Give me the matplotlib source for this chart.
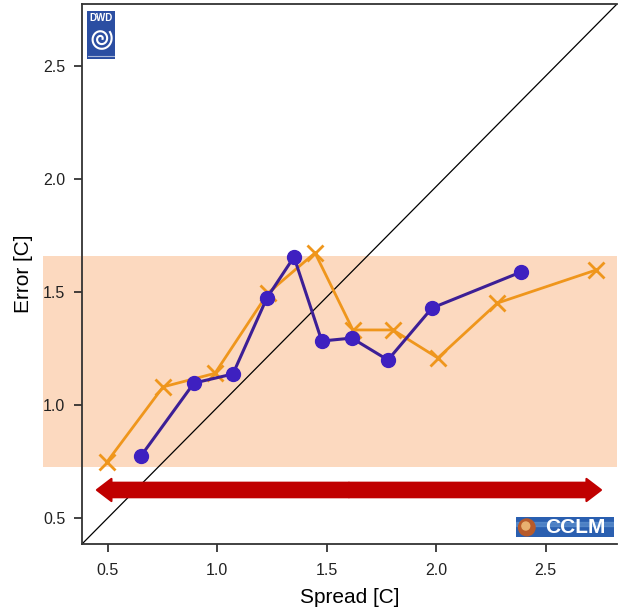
import numpy as np
import matplotlib
matplotlib.use("Agg")
import matplotlib.pyplot as plt
from matplotlib.patches import FancyArrowPatch, Rectangle, Circle

plt.rcParams['font.family'] = ['Liberation Sans', 'DejaVu Sans']

# spread / error pairs
spread_a = [0.652, 0.894, 1.072, 1.227, 1.351, 1.478, 1.615, 1.780, 1.981, 2.387]
error_a = [0.774, 1.097, 1.137, 1.473, 1.655, 1.283, 1.296, 1.199, 1.429, 1.588]

spread_b = [0.497, 0.753, 0.99, 1.233, 1.447, 1.620, 1.803, 2.008, 2.280, 2.730]
error_b = [0.748, 1.080, 1.140, 1.496, 1.673, 1.332, 1.332, 1.208, 1.451, 1.597]

band = (0.726, 1.659)
arrow_y = 0.624
arrow_x = (0.451, 2.753)
xticks = [0.5, 1.0, 1.5, 2.0, 2.5]
yticks = [0.5, 1.0, 1.5, 2.0, 2.5]

fig = plt.figure(figsize=(6.18, 6.08), dpi=100)
ax = fig.add_axes([82/618, (608-544)/608, 535/618, 540/608])

ax.set_xlim(0.383, 2.826)
ax.set_ylim(0.385, 2.774)

# shaded band, sticking out to the left of the axes
ax.axhspan(band[0], band[1], xmin=-0.073, xmax=1.0, color='#fcd9bf', lw=0, clip_on=False, zorder=0)

# diagonal reference line, corner to corner
ax.plot([0, 1], [0, 1], transform=ax.transAxes, color='black', lw=0.9, zorder=1)

ax.plot(spread_b, error_b, color='#ef961c', lw=2, marker='x', ms=11, mew=2, zorder=2)
ax.plot(spread_a, error_a, color='#3c1f96', lw=2.2, marker='o', ms=10,
        mfc='#3e20c0', mec='#3e20c0', zorder=3)

# double red arrow built from two one-sided arrows
mid = (arrow_x[0] + arrow_x[1]) / 2
for end in arrow_x:
    ar = FancyArrowPatch((mid, arrow_y), (end, arrow_y),
                         arrowstyle='simple,head_length=10.5,head_width=16,tail_width=10.5',
                         mutation_scale=1, color='#c00000', lw=1.5, joinstyle='round',
                         shrinkA=0, shrinkB=0, zorder=4)
    ax.add_patch(ar)

ax.set_xticks(xticks)
ax.set_yticks(yticks)
ax.set_xticklabels([f'{v:.1f}' for v in xticks])
ax.set_yticklabels([f'{v:.1f}' for v in yticks])
ax.tick_params(direction='out', length=6, width=1.2, labelsize=11.5, colors='#222222', pad=6)
ax.tick_params(axis='x', pad=8)
ax.spines['right'].set_visible(False)
for s in ['left', 'bottom', 'top']:
    ax.spines[s].set_linewidth(1.3)
    ax.spines[s].set_color('#333333')

ax.set_xlabel('Spread [C]', fontsize=15, labelpad=7)
ax.set_ylabel('Error [C]', fontsize=15, labelpad=7)

# DWD logo
lg = fig.add_axes([87/618, (608-59)/608, 28/618, 48/608])
lg.set_xlim(0, 1)
lg.set_ylim(0, 1)
lg.axis('off')
lg.add_patch(Rectangle((0, 0), 1, 1, color='#2b4ea2'))
lg.text(0.5, 0.85, 'DWD', color='white', fontsize=7, fontweight='bold', ha='center', va='center')
t = np.linspace(0, 4.2 * np.pi, 200)
r = 0.06 + 0.027 * t
lg.plot(0.5 + r * np.cos(t) * 0.95, 0.42 + r * np.sin(t) * 0.58, color='white', lw=1.5)
lg.plot([0.05, 0.95], [0.07, 0.07], color='white', lw=0.8, alpha=0.6)

# CCLM logo
cl = fig.add_axes([516/618, (608-537)/608, 98/618, 20/608])
cl.set_xlim(0, 5)
cl.set_ylim(0, 1)
cl.axis('off')
cl.add_patch(Rectangle((0, 0), 5, 1, color='#2a5fb0'))
cl.add_patch(Rectangle((0, 0.55), 5, 0.2, color='#6ea0d8', alpha=0.5))
cl.add_patch(Circle((0.55, 0.48), 0.42, color='#b85a2a'))
cl.add_patch(Circle((0.5, 0.55), 0.2, color='#e8b070'))
cl.text(3.05, 0.47, 'CCLM', color='white', fontsize=15, fontweight='bold', ha='center', va='center')

fig.savefig('out.png', dpi=100)
